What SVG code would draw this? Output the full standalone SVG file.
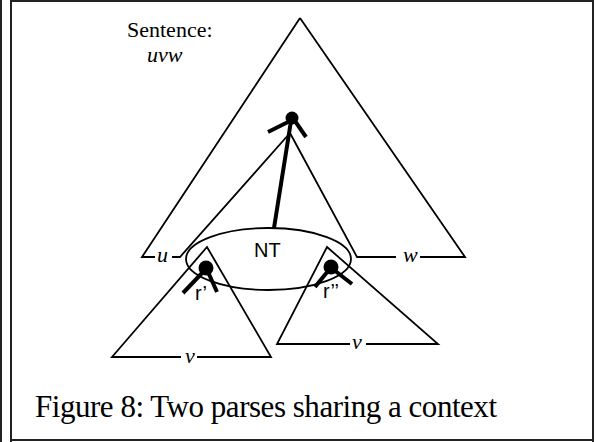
<svg xmlns="http://www.w3.org/2000/svg" width="596" height="442" viewBox="0 0 596 442">
  <style>
    .frame { fill: none; stroke: #222; stroke-width: 2; }
    .thin { fill: none; stroke: #000; stroke-width: 1.8; stroke-linejoin: miter; }
    .thick { fill: none; stroke: #000; stroke-width: 4; stroke-linecap: butt; }
    .dot { fill: #000; }
    .serif { font-family: "Liberation Serif", "Times New Roman", serif; fill: #000; }
    .ital { font-family: "Liberation Serif", "Times New Roman", serif; font-style: italic; font-size: 22px; fill: #000; }
    .sans { font-family: "Liberation Sans", Arial, sans-serif; font-size: 20px; fill: #000; }
  </style>

  <rect width="596" height="442" fill="#fff"/>

  <!-- page frame -->
  <g id="frame">
    <line x1="1" y1="0" x2="1" y2="442" class="frame"/>
    <polyline points="11,442 11,1 593,1 593,442" class="frame"/>
    <line x1="11" y1="440" x2="593" y2="440" class="frame"/>
  </g>

  <g id="sentence-label">
    <text x="127" y="37" class="serif" font-size="22">Sentence:</text>
    <text x="147" y="62" class="ital">uvw</text>
  </g>

  <!-- outer context tree with the u and w frontier -->
  <g id="context">
    <polyline points="300,18 142,257 155,257" class="thin"/>
    <polyline points="172,257 180,257 290,133" class="thin"/>
    <polyline points="290,133 357,257 396,257" class="thin"/>
    <polyline points="420,257 465,257 300,18" class="thin"/>
    <text x="157" y="262" class="ital">u</text>
    <text x="403" y="262" class="ital">w</text>
  </g>

  <!-- rule node at the top of the context -->
  <g id="root-node">
    <circle cx="292" cy="118" r="6.5" class="dot"/>
    <line x1="290" y1="121" x2="268" y2="132" class="thick"/>
    <line x1="295" y1="121" x2="306" y2="137" class="thick"/>
  </g>

  <g id="connectors">
    <line x1="291" y1="121" x2="274" y2="228" class="thick"/>
  </g>

  <!-- left parse of v -->
  <g id="parse-left">
    <polyline points="181,357 112,357 207,247 271,357 197,357" class="thin"/>
    <text x="185" y="363" class="ital">v</text>
    <circle cx="206" cy="268" r="7.5" class="dot"/>
    <line x1="203" y1="272" x2="183" y2="293" class="thick"/>
    <line x1="208" y1="272" x2="217" y2="292" class="thick"/>
    <text x="195" y="300" class="sans">r’</text>
  </g>

  <!-- right parse of v -->
  <g id="parse-right">
    <polyline points="350,344 277,344 327,247 438,344 366,344" class="thin"/>
    <text x="352" y="349" class="ital">v</text>
    <circle cx="331" cy="267" r="7.5" class="dot"/>
    <line x1="328" y1="271" x2="315" y2="287" class="thick"/>
    <line x1="334" y1="270" x2="352" y2="284" class="thick"/>
    <text x="323" y="298" class="sans">r’’</text>
  </g>

  <!-- shared nonterminal -->
  <g id="nt">
    <ellipse cx="268.5" cy="259" rx="82.5" ry="31" class="thin"/>
    <text x="254" y="257" class="sans" font-size="21">NT</text>
  </g>

  <g id="caption">
    <text x="35" y="417" class="serif" font-size="31" textLength="462" lengthAdjust="spacing">Figure 8: Two parses sharing a context</text>
  </g>
</svg>
